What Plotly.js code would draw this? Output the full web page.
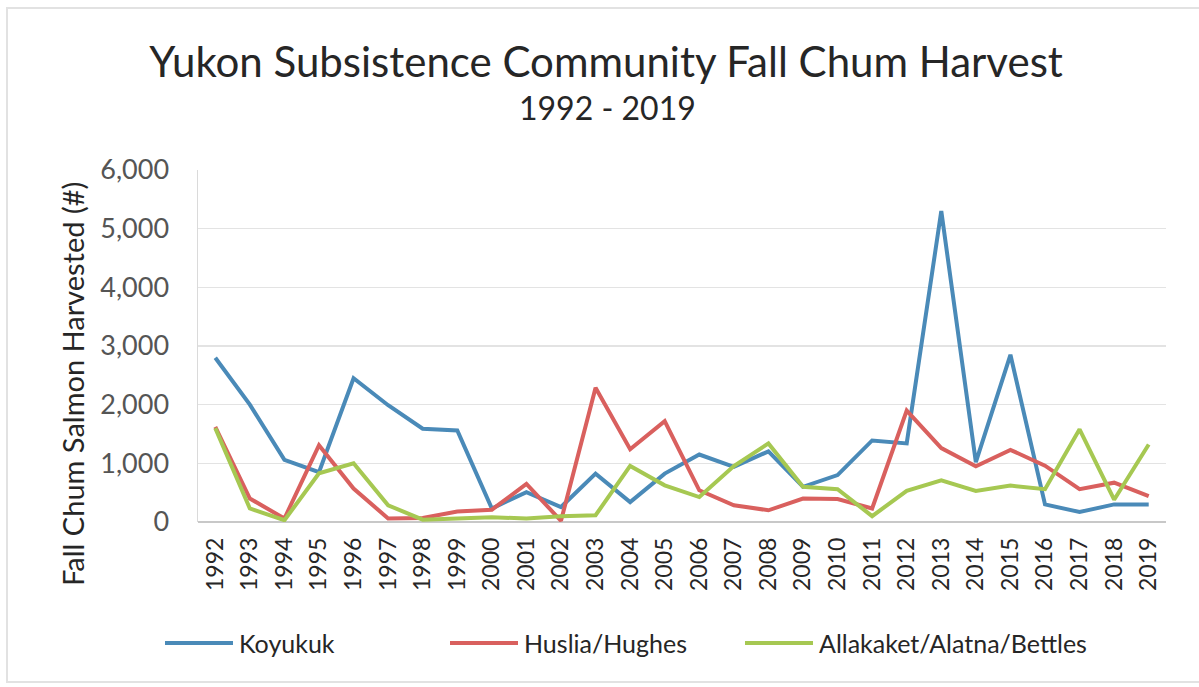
<!DOCTYPE html>
<html>
<head>
<meta charset="utf-8">
<script src="https://cdn.plot.ly/plotly-3.0.1.min.js"></script>
<style>html,body{margin:0;padding:0;background:#fff;}#chart{width:1199px;height:687px;}</style>
</head>
<body>
<div id="chart"></div>
<script>
const years = [1992,1993,1994,1995,1996,1997,1998,1999,2000,2001,2002,2003,2004,2005,2006,2007,2008,2009,2010,2011,2012,2013,2014,2015,2016,2017,2018,2019];
const yearLabels = years.map(String);
const koyukuk = [2800,2000,1060,850,2450,1990,1590,1560,230,510,255,825,340,825,1150,940,1205,600,800,1390,1340,5300,1020,2850,300,170,300,300];
const husliaHughes = [1620,400,60,1310,570,60,70,180,210,650,20,2290,1240,1720,540,285,200,400,390,230,1900,1260,950,1230,960,560,670,440];
const allakaket = [1600,230,30,830,1000,285,40,60,80,60,100,115,955,625,425,955,1340,600,560,100,530,710,530,620,560,1580,380,1320];

const seriesNames = ['Koyukuk','Huslia/Hughes','Allakaket/Alatna/Bettles'];
const seriesColors = ['#4a8ab8','#d9605e','#a6c852'];
const seriesData = [koyukuk, husliaHughes, allakaket];
const titleText = 'Yukon Subsistence Community Fall Chum Harvest';
const subtitleText = '1992 - 2019';
const yTitleText = 'Fall Chum Salmon Harvested (#)';

const traces = seriesData.map((d,i)=>({
  x: years, y: d, type:'scatter', mode:'lines', name: seriesNames[i],
  line:{color: seriesColors[i], width:4}, showlegend:false
}));

// plot-area geometry in pixels (for placing legend/annotations in paper coords)
const PL = 198, PW = 968, PB = 522, PH = 352;
const px = v => (v - PL) / PW;
const py = v => (PB - v) / PH;

const font = "Lato, 'Open Sans', sans-serif";
const legendStarts = [165, 450, 745];
const legendY = 643;
const legendShapes = seriesNames.map((n,i)=>({type:'line', xref:'paper', yref:'paper',
  x0:px(legendStarts[i]), x1:px(legendStarts[i]+68), y0:py(legendY), y1:py(legendY),
  line:{color:seriesColors[i], width:4}}));
const legendLabels = seriesNames.map((n,i)=>({text:n, xref:'paper', yref:'paper',
  x:px(legendStarts[i]+72), y:py(legendY), xanchor:'left', yanchor:'middle', showarrow:false,
  font:{size:25, color:'#262626', family:font}}));

const layout = {
  width:1199, height:687,
  margin:{l:PL, r:1199-PL-PW, t:PB-PH, b:687-PB},
  paper_bgcolor:'#fff', plot_bgcolor:'#fff',
  font:{family:font, color:'#404040'},
  title:{text:titleText, font:{family:font, size:42, color:'#262626'},
    xref:'container', x:0.5055, xanchor:'center', yref:'container', y:1-62/687, yanchor:'middle'},
  xaxis:{range:[1991.5,2019.5], tickvals:years, ticktext:yearLabels, tickangle:-90,
    tickfont:{size:23, color:'#262626', family:font}, showgrid:false, zeroline:false,
    showline:false, ticks:'', ticklabelstandoff:10, fixedrange:true},
  yaxis:{range:[0,6000], dtick:1000, tickformat:',d', tickfont:{size:27, color:'#555', family:font},
    gridcolor:'#e3e3e3', gridwidth:1.5, zeroline:true, zerolinecolor:'#c8c8c8', zerolinewidth:2,
    showline:true, linecolor:'#dadada', linewidth:1.5, ticks:'', ticklabelstandoff:22},
  showlegend:false,
  annotations:[
    {text:subtitleText, xref:'paper', yref:'paper', x:px(607), y:py(107),
     xanchor:'center', yanchor:'middle', showarrow:false, font:{size:32, color:'#262626', family:font}},
    {text:yTitleText, xref:'paper', yref:'paper', x:px(72), y:py(384),
    xanchor:'center', yanchor:'middle', textangle:-90, showarrow:false,
    font:{size:29, color:'#262626', family:font}}].concat(legendLabels),
  shapes:[{type:'rect', xref:'paper', yref:'paper', x0:px(7), x1:1.06, y0:py(682), y1:py(8),
    line:{color:'#e2e2e2', width:2}, fillcolor:'rgba(0,0,0,0)', layer:'below'}].concat(legendShapes)
};
Plotly.newPlot('chart', traces, layout, {displayModeBar:false, staticPlot:true});
</script>
</body>
</html>
